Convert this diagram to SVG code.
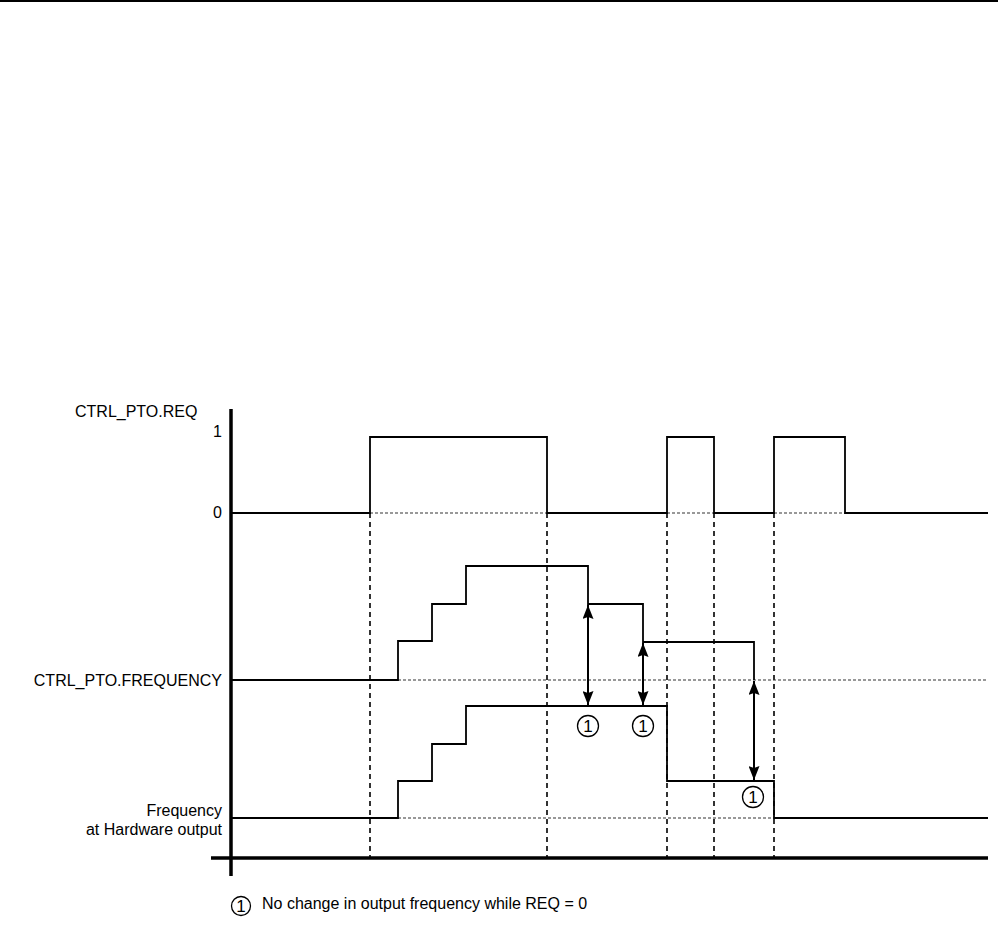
<svg xmlns="http://www.w3.org/2000/svg" width="998" height="926" viewBox="0 0 998 926">
<style>
text{font-family:"Liberation Sans",Arial,sans-serif;font-size:16px;fill:#000}
.lbl{text-anchor:end}
.sig{fill:none;stroke:#000;stroke-width:1.8}
.base{fill:none;stroke:#000;stroke-width:1.8}
.dbase{fill:none;stroke:#333;stroke-width:1.2;stroke-dasharray:3 2}
.vd{fill:none;stroke:#000;stroke-width:1.6;stroke-dasharray:5 4}
.axis{fill:none;stroke:#000;stroke-width:3.5}
.arr{fill:none;stroke:#000;stroke-width:2}
.c{fill:#fff;stroke:#000;stroke-width:1.3}
.cn{font-size:17px;text-anchor:middle}
</style>
<defs>
<marker id="ah" viewBox="0 0 14 11" refX="14" refY="5.5" markerWidth="14" markerHeight="11" markerUnits="userSpaceOnUse" orient="auto-start-reverse">
<path d="M0,0 L14,5.5 L0,11 L2,5.5 Z" fill="#000"/>
</marker>
</defs>
<rect width="998" height="926" fill="#fff"/>
<line x1="0" y1="1" x2="998" y2="1" stroke="#000" stroke-width="2"/>

<g id="labels">
<text x="75" y="417">CTRL_PTO.REQ</text>
<text class="lbl" x="222" y="437">1</text>
<text class="lbl" x="222" y="518">0</text>
<text class="lbl" x="222" y="686">CTRL_PTO.FREQUENCY</text>
<text class="lbl" x="222" y="816">Frequency</text>
<text class="lbl" x="222" y="835">at Hardware output</text>
</g>

<g id="guides">
<line class="vd" x1="370" y1="513" x2="370" y2="858"/>
<line class="vd" x1="547" y1="513" x2="547" y2="858"/>
<line class="vd" x1="667" y1="513" x2="667" y2="858"/>
<line class="vd" x1="714" y1="513" x2="714" y2="858"/>
<line class="vd" x1="774" y1="513" x2="774" y2="858"/>
</g>

<g id="req-signal">
<path class="dbase" d="M370,513 H547 M667,513 H714 M774,513 H845"/>
<path class="base" d="M232,513 H370 V437 H547 V513 H667 V437 H714 V513 H774 V437 H845 V513 H988"/>
</g>

<g id="freq-signal">
<path class="dbase" d="M398,680 H988"/>
<path class="sig" d="M232,680 H398 V641 H432 V604 H466 V566 H588 V604 H643 V642 H754 V680"/>
</g>

<g id="hw-signal">
<path class="dbase" d="M398,818 H774"/>
<path class="sig" d="M232,818 H398 V781 H432 V744 H466 V706 H667 V781 H774 V818 H988"/>
</g>

<g id="axes">
<line class="axis" x1="231" y1="409" x2="231" y2="876"/>
<line class="axis" x1="211" y1="858" x2="988" y2="858"/>
</g>

<g id="connectors">
<line class="arr" x1="588" y1="605" x2="588" y2="705" marker-start="url(#ah)" marker-end="url(#ah)"/>
<line class="arr" x1="643" y1="643" x2="643" y2="705" marker-start="url(#ah)" marker-end="url(#ah)"/>
<line class="arr" x1="754" y1="681" x2="754" y2="780" marker-start="url(#ah)" marker-end="url(#ah)"/>
</g>

<g id="note1a"><circle class="c" cx="588" cy="726" r="10.5"/><text class="cn" x="588" y="732">1</text></g>
<g id="note1b"><circle class="c" cx="643" cy="726" r="10.5"/><text class="cn" x="643" y="732">1</text></g>
<g id="note1c"><circle class="c" cx="753" cy="797" r="10.5"/><text class="cn" x="753" y="803">1</text></g>

<g id="legend">
<circle class="c" cx="241" cy="906" r="9.5"/><text class="cn" x="241" y="912">1</text>
<text x="262" y="909">No change in output frequency while REQ = 0</text>
</g>
</svg>
